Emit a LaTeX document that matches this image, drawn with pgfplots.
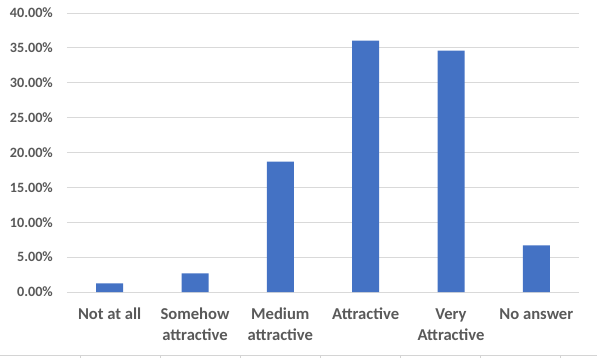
\documentclass[border=0pt]{standalone}
\usepackage{pgfplots}
\pgfplotsset{compat=1.18}
\usepackage{fontspec}
\setmainfont{Carlito}
\definecolor{barblue}{HTML}{4472C4}
\definecolor{gridgray}{HTML}{D9D9D9}
\definecolor{labelgray}{HTML}{595959}
\definecolor{cellgray}{HTML}{D4D4D4}
\newcommand{\st}{\rule{0pt}{12bp}}
\begin{document}
\begin{tikzpicture}[x=1bp,y=1bp]
\path[use as bounding box] (-67,-66) rectangle (530,292);
\begin{axis}[
  at={(0,0)}, anchor=south west,
  scale only axis, width=512bp, height=279bp,
  xmin=-0.5, xmax=5.5, ymin=0, ymax=40,
  enlarge x limits=false, enlarge y limits=false,
  ybar, bar width=27bp,
  xtick={0,1,2,3,4,5},
  xticklabels={\st Not at all, {\st Somehow\\attractive}, {\st Medium\\attractive}, \st Attractive, {\st Very\\Attractive}, \st No answer},
  x tick label style={align=center, font=\bfseries\fontsize{16.6bp}{20.5bp}\selectfont, text=labelgray, anchor=north, inner sep=0pt, yshift=-15.5bp},
  ytick={0,5,...,40},
  /pgf/number format/assume math mode=true,
  yticklabel={\pgfmathprintnumber[fixed,fixed zerofill,precision=2]{\tick}\%},
  y tick label style={font=\bfseries\fontsize{14.2bp}{17bp}\selectfont, text=labelgray, anchor=east, inner sep=0pt, xshift=-14bp},
  ymajorgrids, grid style={draw=gridgray, line width=1bp},
  axis line style={draw=none},
  major tick length=0pt,
]
\addplot[fill=barblue, draw=none] coordinates {
  (0,1.23) (1,2.67) (2,18.68) (3,36.03) (4,34.60) (5,6.68)
};
\end{axis}
\draw[cellgray, line width=1bp] (-67,-63) -- (530,-63);
\foreach \xx in {13,93,173,253,333,413,493} {
  \draw[cellgray, line width=1bp] (\xx,-63) -- (\xx,-66);
}
\end{tikzpicture}
\end{document}
